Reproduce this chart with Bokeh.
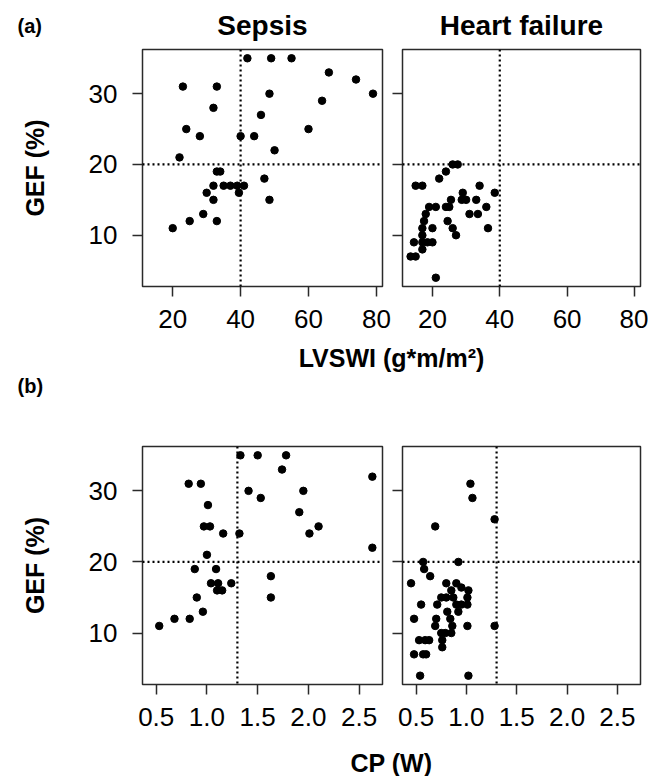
from bokeh.plotting import figure
from bokeh.models import Span, FixedTicker, Range1d, PrintfTickFormatter
from bokeh.layouts import column, row
from bokeh.embed import file_html
from bokeh.resources import INLINE
from bokeh.core.properties import value

FONT = "Liberation Sans"

# ---- data -------------------------------------------------------------
gef_ticks = [10, 20, 30]
lvswi_ticks = [20, 40, 60, 80]
cp_ticks = [0.5, 1.0, 1.5, 2.0, 2.5]
gef_cut = 20
lvswi_cut = 40
cp_cut = 1.3

# (a) Sepsis: LVSWI vs GEF
sep_lvswi = [42, 49, 55, 66, 74, 79, 23, 33, 48.5, 64, 32, 46, 24, 60, 28, 40, 44,
             50, 22, 33, 34, 47, 32, 35, 37, 39, 41, 39.5, 30, 32, 48.5, 29, 25, 33, 20]
sep_gef_a = [35, 35, 35, 33, 32, 30, 31, 31, 30, 29, 28, 27, 25, 25, 24, 24, 24,
             22, 21, 19, 19, 18, 17, 17, 17, 17, 17, 16, 16, 15, 15, 13, 12, 12, 11]

# (a) Heart failure: LVSWI vs GEF
hf_lvswi = [26, 27.5, 24, 22, 15, 17, 34, 29, 38.5, 28.7, 30, 25.5, 33, 19, 21, 24, 25,
            36, 18, 31, 33.5, 17.5, 24.5, 17, 20, 26, 36.5, 27, 17, 14.5, 17, 18.5, 20,
            17, 13.5, 15, 21]
hf_gef_a = [20, 20, 19, 18, 17, 17, 17, 16, 16, 15, 15, 15, 15, 14, 14, 14, 14,
            14, 13, 13, 13, 12, 12, 11, 11, 11, 11, 10, 10, 9, 9, 9, 9,
            8, 7, 7, 4]

# (b) Sepsis: CP vs GEF
sep_cp = [1.33, 1.5, 1.78, 1.74, 2.63, 0.82, 0.94, 1.41, 1.95, 1.53, 1.01, 1.91, 0.97,
          1.03, 2.1, 1.16, 1.32, 2.01, 2.63, 1.0, 0.88, 1.09, 1.63, 1.04, 1.11, 1.24,
          1.1, 1.15, 0.9, 1.63, 0.96, 0.68, 0.83, 0.53]
sep_gef_b = [35, 35, 35, 33, 32, 31, 31, 30, 30, 29, 28, 27, 25,
             25, 25, 24, 24, 24, 22, 21, 19, 19, 18, 17, 17, 17,
             16, 16, 15, 15, 13, 12, 12, 11]

# (b) Heart failure: CP vs GEF
hf_cp = [1.04, 1.06, 1.28, 0.69, 0.57, 0.92, 0.58, 0.64, 0.45, 0.8, 0.9, 0.85, 0.95,
         1.02, 0.75, 0.8, 0.87, 1.01, 0.71, 0.55, 0.9, 0.95, 1.01, 0.92, 0.81, 0.7,
         0.84, 0.48, 0.69, 0.86, 1.01, 1.28, 0.75, 0.79, 0.85, 0.53, 0.59, 0.63, 0.76,
         0.76, 0.48, 0.57, 0.6, 0.54, 1.02]
hf_gef_b = [31, 29, 26, 25, 20, 20, 19, 18, 17, 17, 17, 16, 16.4,
            16, 15, 15, 15, 15, 14, 14, 14, 14, 14, 13, 13, 12,
            12, 12, 11, 11, 11, 11, 10, 10, 10, 9, 9, 9, 9,
            8, 7, 7, 7, 4, 4]

gef_range = (2.76, 36.24)
lvswi_range = (11.1, 81.8)
cp_range = (0.365, 2.73)

TICK_SIZE = "26px"
LABEL_SIZE = "25px"


def panel(xs, ys, xr, xticks, xcut, left, fw, fh, mbl, mbr, mbt, mbb, fmt=None):
    p = figure(frame_width=fw, frame_height=fh,
               min_border_left=mbl, min_border_right=mbr,
               min_border_top=mbt, min_border_bottom=mbb,
               x_range=Range1d(*xr), y_range=Range1d(*gef_range),
               toolbar_location=None, output_backend="svg", title=None)
    p.grid.visible = False
    p.background_fill_color = "white"
    p.border_fill_color = "white"
    p.outline_line_color = "#2a2a2a"
    p.outline_line_width = 1.5

    p.add_layout(Span(location=xcut, dimension="height", line_color="black",
                      line_width=2.2, line_dash="2 3"))
    p.add_layout(Span(location=gef_cut, dimension="width", line_color="black",
                      line_width=2.2, line_dash="2 3"))
    p.scatter(xs, ys, size=7.5, color="black")

    for ax in (p.xaxis[0], p.yaxis[0]):
        ax.axis_line_color = None
        ax.major_tick_line_color = "#2a2a2a"
        ax.major_tick_line_width = 1.5
        ax.major_tick_out = 10
        ax.major_tick_in = 0
        ax.minor_tick_line_color = None
        ax.major_label_text_font = FONT
        ax.major_label_text_font_size = TICK_SIZE
        ax.major_label_text_color = "black"
    p.xaxis.ticker = FixedTicker(ticks=xticks)
    p.xaxis.major_label_standoff = 13
    if fmt:
        p.xaxis.formatter = PrintfTickFormatter(format=fmt)
    p.yaxis.ticker = FixedTicker(ticks=gef_ticks)
    if left:
        p.yaxis.major_label_standoff = 15
        p.yaxis.axis_label = "GEF (%)"
        p.yaxis.axis_label_text_font = FONT
        p.yaxis.axis_label_text_font_size = LABEL_SIZE
        p.yaxis.axis_label_text_font_style = "bold"
        p.yaxis.axis_label_text_color = "black"
        p.yaxis.axis_label_standoff = 37
    else:
        p.yaxis.major_label_overrides = {t: "" for t in gef_ticks}
        p.yaxis.major_label_standoff = 0
    return p


def strip(h, xs, ys, texts, sizes, aligns):
    s = figure(width=648, height=h, x_range=Range1d(0, 648), y_range=Range1d(h, 0),
               min_border=0, toolbar_location=None, output_backend="svg",
               x_axis_location=None, y_axis_location=None, title=None)
    s.grid.visible = False
    s.outline_line_color = None
    s.background_fill_color = "white"
    s.border_fill_color = "white"
    for x, y, t, fs, al in zip(xs, ys, texts, sizes, aligns):
        s.text(x=[x], y=[y], text=[t], text_font=value(FONT), text_font_size=fs,
               text_font_style="bold", text_align=al, text_baseline="middle",
               text_color="black")
    return s


top = strip(47, [17, 262, 521], [25, 25, 25], ["(a)", "Sepsis", "Heart failure"],
            ["20px", "28px", "28px"], ["left", "center", "center"])

a1 = panel(sep_lvswi, sep_gef_a, lvswi_range, lvswi_ticks, lvswi_cut, True,
           240, 237, 142, 9, 2, 54)
a2 = panel(hf_lvswi, hf_gef_a, lvswi_range, lvswi_ticks, lvswi_cut, False,
           238, 237, 11, 8, 2, 54)

mid = strip(60, [391, 17], [17, 45], ["LVSWI (g*m/m\u00b2)", "(b)"],
            ["25px", "20px"], ["center", "left"])

b1 = panel(sep_cp, sep_gef_b, cp_range, cp_ticks, cp_cut, True,
           240, 238, 142, 9, 46, 54, fmt="%.1f")
b2 = panel(hf_cp, hf_gef_b, cp_range, cp_ticks, cp_cut, False,
           238, 238, 11, 8, 46, 54, fmt="%.1f")

bot = strip(38, [391], [24], ["CP (W)"], ["25px"], ["center"])

layout = column(top, row(a1, a2), mid, row(b1, b2), bot)

open("out.html", "w").write(file_html(layout, INLINE))
